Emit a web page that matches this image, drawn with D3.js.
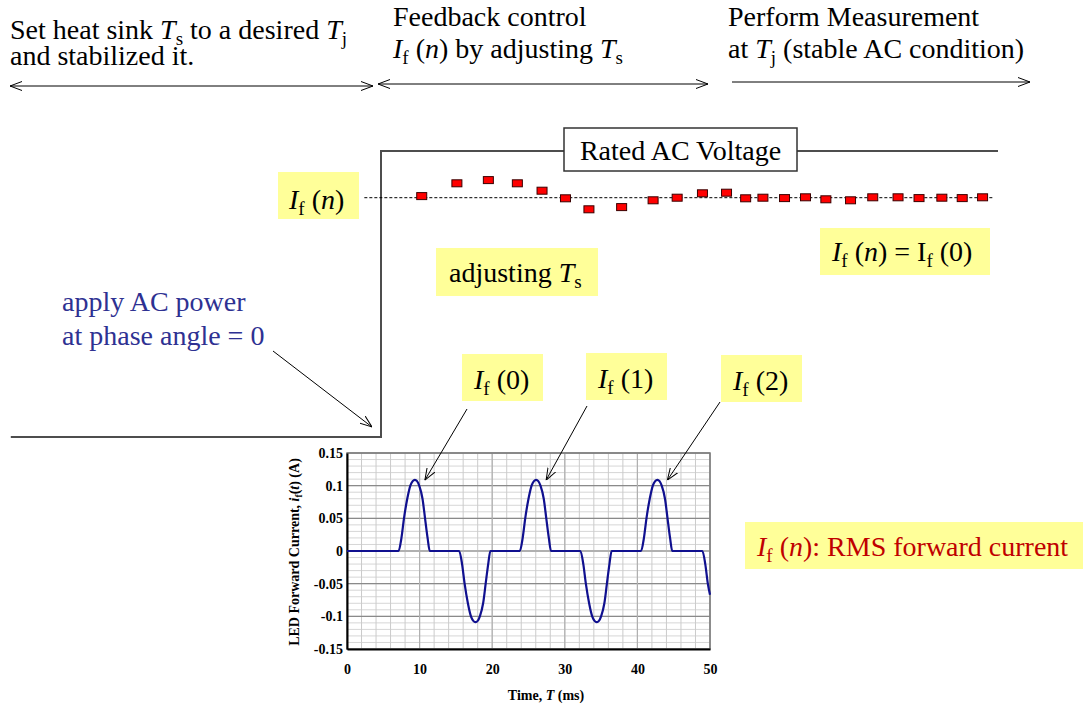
<!DOCTYPE html>
<html><head><meta charset="utf-8">
<script src="https://cdn.jsdelivr.net/npm/d3@7"></script>
<style>body{margin:0;background:#fff}svg{display:block}text{white-space:pre}</style>
</head><body>
<svg id="c" width="1089" height="706"></svg>
<script>
// ---- data ----
// top panel: applied AC voltage (relative), step at t = 0
const stepT = [-60, 0, 0, 100];
const stepV = [0, 0, 1, 1];
// measured RMS forward current If(n), relative to If(0)
const markerT = [6.6, 12.3, 17.4, 22.1, 26.1, 29.9, 33.7, 39.0, 44.1, 48.0, 52.1, 56.0, 59.1, 61.9, 65.4, 68.8, 72.1, 76.1, 79.7, 83.8, 87.2, 90.9, 94.2, 97.5];
const markerIf = [1.008, 1.072, 1.088, 1.072, 1.035, 0.997, 0.942, 0.953, 0.987, 1.000, 1.022, 1.025, 0.997, 1.000, 0.998, 1.002, 0.992, 0.987, 1.002, 1.002, 0.998, 1.000, 0.998, 1.002];
const refIf = 1.0;
// inset chart: LED forward current waveform
const waveT = [0, 7.1, 7.5, 7.85, 8.3, 8.75, 9.05, 9.35, 9.65, 9.95, 10.4, 10.75, 11.1, 11.4,
  15.45, 15.85, 16.2, 16.65, 17.1, 17.4, 17.7, 18.0, 18.3, 18.75, 19.1, 19.45, 19.75,
  23.8, 24.2, 24.55, 25.0, 25.45, 25.75, 26.05, 26.35, 26.65, 27.1, 27.45, 27.8, 28.1,
  32.15, 32.55, 32.9, 33.35, 33.8, 34.1, 34.4, 34.7, 35.0, 35.45, 35.8, 36.15, 36.45,
  40.5, 40.9, 41.25, 41.7, 42.15, 42.45, 42.75, 43.05, 43.35, 43.8, 44.15, 44.5, 44.8,
  48.95, 49.35, 49.7, 50];
const waveI = [0, 0, 0.02, 0.05, 0.08, 0.101, 0.107, 0.109, 0.107, 0.100, 0.08, 0.05, 0.02, 0,
  0, -0.02, -0.05, -0.08, -0.101, -0.107, -0.109, -0.107, -0.100, -0.08, -0.05, -0.02, 0,
  0, 0.02, 0.05, 0.08, 0.101, 0.107, 0.109, 0.107, 0.100, 0.08, 0.05, 0.02, 0,
  0, -0.02, -0.05, -0.08, -0.101, -0.107, -0.109, -0.107, -0.100, -0.08, -0.05, -0.02, 0,
  0, 0.02, 0.05, 0.08, 0.101, 0.107, 0.109, 0.107, 0.100, 0.08, 0.05, 0.02, 0,
  0, -0.02, -0.05, -0.067];
const xTicks = [0, 10, 20, 30, 40, 50];
const yTicks = [-0.15, -0.1, -0.05, 0, 0.05, 0.1, 0.15];
const yTickLabels = ["-0.15", "-0.1", "-0.05", "0", "0.05", "0.1", "0.15"];
const peakLabels = ["0", "1", "2"];
const peakT = [9.35, 26.05, 42.75];

// ---- setup ----
const svg = d3.select("#c");
const SERIF = "'Liberation Serif','Times New Roman',serif";
const defs = svg.append("defs");
defs.append("marker").attr("id", "ah").attr("viewBox", "0 0 12 10")
  .attr("refX", 12).attr("refY", 5).attr("markerWidth", 12).attr("markerHeight", 10)
  .attr("markerUnits", "userSpaceOnUse").attr("orient", "auto-start-reverse")
  .append("path").attr("d", "M0,0.5 L12,5 L0,9.5").attr("fill", "none").attr("stroke", "#000").attr("stroke-width", 1);

function rich(g, x, y, segs, size, color, opts = {}) {
  const t = g.append("text").attr("x", x).attr("y", y)
    .attr("font-family", SERIF).attr("font-size", size).attr("fill", color || "#000");
  if (opts.anchor) t.attr("text-anchor", opts.anchor);
  if (opts.weight) t.attr("font-weight", opts.weight);
  if (opts.transform) t.attr("transform", opts.transform);
  let shifted = 0;
  segs.forEach(s => {
    const ts = t.append("tspan").text(s.t);
    const want = s.sub ? size * 0.22 : 0;
    const dy = want - shifted;
    if (dy) ts.attr("dy", dy);
    shifted = want;
    if (s.sub) ts.attr("font-size", size * 0.68);
    if (s.i) ts.attr("font-style", "italic");
  });
  return t;
}
function ybox(x, y, w, h) {
  svg.append("rect").attr("x", x).attr("y", y).attr("width", w).attr("height", h).attr("fill", "#ffff99");
}

// ---- top panel scales ----
const xTop = d3.scaleLinear().domain([0, 100]).range([381, 998]);
const yV = d3.scaleLinear().domain([0, 1]).range([437, 151]);
const yIf = d3.scaleLinear().domain([0.9, 1.1]).range([217.7, 177.7]);

// header texts
const FS = 28;
rich(svg, 10, 39, [{t: "Set heat sink "}, {t: "T", i: 1}, {t: "s", sub: 1}, {t: " to a desired "}, {t: "T", i: 1}, {t: "j", sub: 1}], FS);
rich(svg, 10, 65, [{t: "and stabilized it."}], FS);
rich(svg, 393, 26, [{t: "Feedback control"}], FS);
rich(svg, 393, 58, [{t: "I", i: 1}, {t: "f", sub: 1}, {t: " ("}, {t: "n", i: 1}, {t: ") by adjusting "}, {t: "T", i: 1}, {t: "s", sub: 1}], FS);
rich(svg, 728, 26, [{t: "Perform Measurement"}], FS);
rich(svg, 728, 58, [{t: "at "}, {t: "T", i: 1}, {t: "j", sub: 1}, {t: " (stable AC condition)"}], FS);

// phase arrows
const arr = (x1, y1, x2, y2, both) => {
  const l = svg.append("line").attr("x1", x1).attr("y1", y1).attr("x2", x2).attr("y2", y2)
    .attr("stroke", "#000").attr("stroke-width", 1).attr("marker-end", "url(#ah)");
  if (both) l.attr("marker-start", "url(#ah)");
};
arr(10, 86, 373, 86, true);
arr(378, 84, 708, 84, true);
arr(732, 82, 1030, 82, false);

// voltage step
svg.append("path").datum(stepT.map((t, i) => [t, stepV[i]]))
  .attr("d", d3.line().x(d => xTop(d[0])).y(d => yV(d[1])))
  .attr("fill", "none").attr("stroke", "#4d4d4d").attr("stroke-width", 2);
svg.append("rect").attr("x", 564).attr("y", 128).attr("width", 233).attr("height", 43)
  .attr("fill", "#fff").attr("stroke", "#333").attr("stroke-width", 1.5);
rich(svg, 680.5, 160, [{t: "Rated AC Voltage"}], FS, "#000", {anchor: "middle"});

// reference dashed line
svg.append("line").attr("x1", xTop(-2.7)).attr("x2", xTop(99.3)).attr("y1", yIf(refIf)).attr("y2", yIf(refIf))
  .attr("stroke", "#000").attr("stroke-width", 1).attr("stroke-dasharray", "3,2");
// markers
svg.append("g").selectAll("rect").data(markerT).join("rect")
  .attr("x", d => xTop(d) - 5).attr("y", (d, i) => yIf(markerIf[i]) - 3.5)
  .attr("width", 10).attr("height", 7).attr("fill", "#ff0000").attr("stroke", "#3a0000").attr("stroke-width", 1);

// labels
ybox(278, 172, 81, 47);
rich(svg, 289, 209, [{t: "I", i: 1}, {t: "f", sub: 1}, {t: " ("}, {t: "n", i: 1}, {t: ")"}], FS);
ybox(436, 248, 162, 48);
rich(svg, 449, 282, [{t: "adjusting "}, {t: "T", i: 1}, {t: "s", sub: 1}], FS);
ybox(820, 228, 170, 47);
rich(svg, 832, 261, [{t: "I", i: 1}, {t: "f", sub: 1}, {t: " ("}, {t: "n", i: 1}, {t: ") = I"}, {t: "f", sub: 1}, {t: " (0)"}], FS);
ybox(745, 522, 338, 47);
rich(svg, 757, 556, [{t: "I", i: 1}, {t: "f", sub: 1}, {t: " ("}, {t: "n", i: 1}, {t: "): RMS forward current"}], FS, "#c00000");

rich(svg, 62, 311, [{t: "apply AC power"}], FS, "#2e3192");
rich(svg, 62, 345, [{t: "at phase angle = 0"}], FS, "#2e3192");
arr(273, 351, 372, 427, false);

// ---- inset chart ----
const xS = d3.scaleLinear().domain([0, 50]).range([347, 710]);
const yS = d3.scaleLinear().domain([-0.15, 0.15]).range([649, 453]);
const gi = svg.append("g");
// minor grid
gi.selectAll(".hm").data(yS.ticks(30)).join("line")
  .attr("x1", xS(0)).attr("x2", xS(50)).attr("y1", d => yS(d)).attr("y2", d => yS(d))
  .attr("stroke", "#d6d6d6").attr("stroke-width", 1);
gi.selectAll(".vm").data(xS.ticks(25)).join("line")
  .attr("y1", yS(-0.15)).attr("y2", yS(0.15)).attr("x1", d => xS(d)).attr("x2", d => xS(d))
  .attr("stroke", "#cbcbcb").attr("stroke-width", 1);
// major grid
gi.selectAll(".hM").data(yTicks).join("line")
  .attr("x1", xS(0)).attr("x2", xS(50)).attr("y1", d => yS(d)).attr("y2", d => yS(d))
  .attr("stroke", d => d === 0 ? "#b0b0b0" : "#8a8a8a").attr("stroke-width", d => d === 0 ? 2 : 1.2);
gi.selectAll(".vM").data(xTicks).join("line")
  .attr("y1", yS(-0.15)).attr("y2", yS(0.15)).attr("x1", d => xS(d)).attr("x2", d => xS(d))
  .attr("stroke", "#b0b0b0").attr("stroke-width", 1.2);
// frame
gi.append("rect").attr("x", xS(0)).attr("y", yS(0.15)).attr("width", xS(50) - xS(0)).attr("height", yS(-0.15) - yS(0.15))
  .attr("fill", "none").attr("stroke", "#7a7a7a").attr("stroke-width", 1.5);
// axes
const xAx = gi.append("g").attr("transform", `translate(0,${yS(-0.15)})`)
  .call(d3.axisBottom(xS).tickValues(xTicks).tickSize(0).tickPadding(15).tickFormat(d3.format("d")));
const yAx = gi.append("g").attr("transform", `translate(${xS(0)},0)`)
  .call(d3.axisLeft(yS).tickValues(yTicks).tickSize(0).tickPadding(4).tickFormat((d, i) => yTickLabels[i]));
[xAx, yAx].forEach(a => {
  a.select(".domain").attr("stroke", "#000").attr("stroke-width", 2);
  a.selectAll("text").attr("font-family", SERIF).attr("font-weight", "bold").attr("font-size", 14).attr("fill", "#000");
});
// waveform
gi.append("path").datum(waveT.map((t, i) => [t, waveI[i]]))
  .attr("d", d3.line().x(d => xS(d[0])).y(d => yS(d[1])).curve(d3.curveMonotoneX))
  .attr("fill", "none").attr("stroke", "#10108f").attr("stroke-width", 2.2);
// axis titles
rich(gi, 546, 700, [{t: "Time, "}, {t: "T", i: 1}, {t: " (ms)"}], 14, "#000", {anchor: "middle", weight: "bold"});
rich(gi, 0, 0, [{t: "LED Forward Current, "}, {t: "i", i: 1}, {t: "f", sub: 1}, {t: "("}, {t: "t", i: 1}, {t: ") (A)"}], 14, "#000",
  {anchor: "middle", weight: "bold", transform: "translate(299,552) rotate(-90)"});

// peak labels and arrows
const boxX = [462, 586, 721];
const boxY = [354, 353, 355];
const startXY = [[467, 409], [587, 406], [720, 402]];
peakLabels.forEach((lab, k) => {
  ybox(boxX[k], boxY[k], 81, 47);
  rich(svg, boxX[k] + 12, boxY[k] + 35, [{t: "I", i: 1}, {t: "f", sub: 1}, {t: " (" + lab + ")"}], FS);
  arr(startXY[k][0], startXY[k][1], xS(peakT[k]) + 10, yS(0.11) + 1, false);
});
</script>
</body></html>
